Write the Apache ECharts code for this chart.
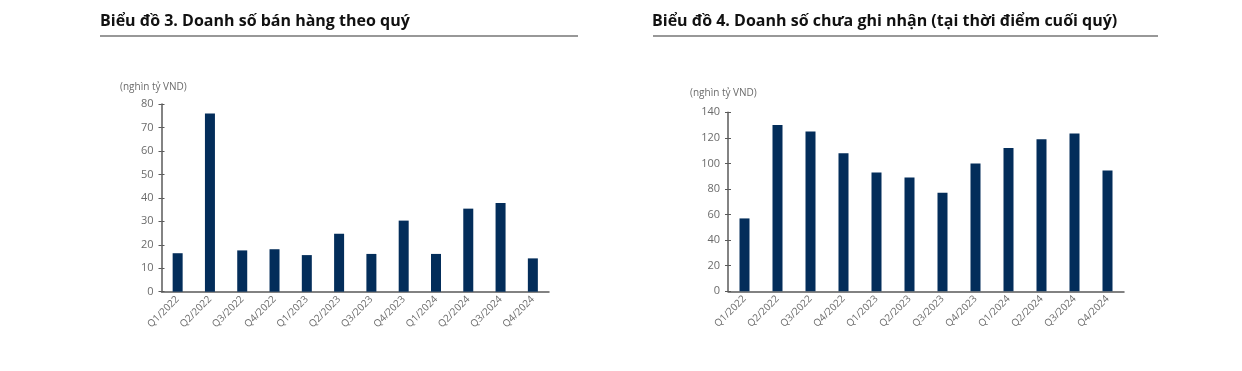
<!DOCTYPE html>
<html><head><meta charset="utf-8">
<script src="https://cdn.jsdelivr.net/npm/echarts@6/dist/echarts.min.js"></script>
<style>html,body{margin:0;padding:0;background:#fff}#c{width:1242px;height:371px}</style>
</head><body><div id="c"></div>
<script>
const categories = ['Q1/2022','Q2/2022','Q3/2022','Q4/2022','Q1/2023','Q2/2023','Q3/2023','Q4/2023','Q1/2024','Q2/2024','Q3/2024','Q4/2024'];
const salesValues = [16.4, 76.0, 17.6, 18.1, 15.6, 24.7, 16.1, 30.3, 16.1, 35.4, 37.8, 14.2];
const backlogValues = [57, 130, 125, 108, 93, 89, 77, 100, 112, 119, 123.5, 94.5];
const title1 = 'Biểu đồ 3. Doanh số bán hàng theo quý';
const title2 = 'Biểu đồ 4. Doanh số chưa ghi nhận (tại thời điểm cuối quý)';
const unitLabel = '(nghìn tỷ VND)';

const FONT = '"Open Sans", "Noto Sans", sans-serif';
const BAR = '#032d5a';
const AX = '#5a5a5a';
const LBL = '#6b6b6b';

const chart = echarts.init(document.getElementById('c'));
function xAxis(gi){
  return {type:'category', gridIndex:gi, data:categories, boundaryGap:true,
    axisLine:{lineStyle:{color:AX,width:1.5}},
    axisTick:{inside:true,length:4,lineStyle:{color:AX}},
    axisLabel:{rotate:45,color:LBL,fontFamily:FONT,fontSize:10,margin:6,interval:0}};
}
function yAxes(gi,max,interval){
  return [
    {type:'value', gridIndex:gi, position:'left', min:0, max:max, interval:interval,
      splitLine:{show:false},
      axisLine:{show:true,lineStyle:{color:AX,width:1.5}},
      axisTick:{show:true,length:3,lineStyle:{color:AX}},
      axisLabel:{color:LBL,fontFamily:FONT,fontSize:11,margin:8}},
    {type:'value', gridIndex:gi, position:'left', min:0, max:max, interval:interval,
      splitLine:{show:false},
      axisLine:{show:false},
      axisTick:{show:true,inside:true,length:3,lineStyle:{color:AX}},
      axisLabel:{show:false}}
  ];
}
chart.setOption({
  animation:false,
  title:[
    {text:title1,left:95,top:8,textStyle:{fontFamily:FONT,fontWeight:'bold',fontSize:16,color:'#111'}},
    {text:title2,left:647,top:8,textStyle:{fontFamily:FONT,fontWeight:'bold',fontSize:16,color:'#111'}}
  ],
  graphic:[
    {type:'line',shape:{x1:100,y1:36,x2:578,y2:36},style:{stroke:'#333',lineWidth:1.2}},
    {type:'line',shape:{x1:653,y1:36,x2:1158,y2:36},style:{stroke:'#333',lineWidth:1.2}},
    {type:'text',left:120,top:82,style:{text:unitLabel,fill:LBL,font:'10px '+FONT}},
    {type:'text',left:690,top:88,style:{text:unitLabel,fill:LBL,font:'10px '+FONT}}
  ],
  grid:[
    {left:161.5,top:104,width:387.5,height:187.7},
    {left:728,top:112.3,width:396,height:179}
  ],
  xAxis:[xAxis(0),xAxis(1)],
  yAxis:[...yAxes(0,80,10),...yAxes(1,140,20)],
  series:[
    {type:'bar',xAxisIndex:0,yAxisIndex:0,data:salesValues,barWidth:10,itemStyle:{color:BAR}},
    {type:'bar',xAxisIndex:1,yAxisIndex:2,data:backlogValues,barWidth:10,itemStyle:{color:BAR}}
  ]
});
</script></body></html>
